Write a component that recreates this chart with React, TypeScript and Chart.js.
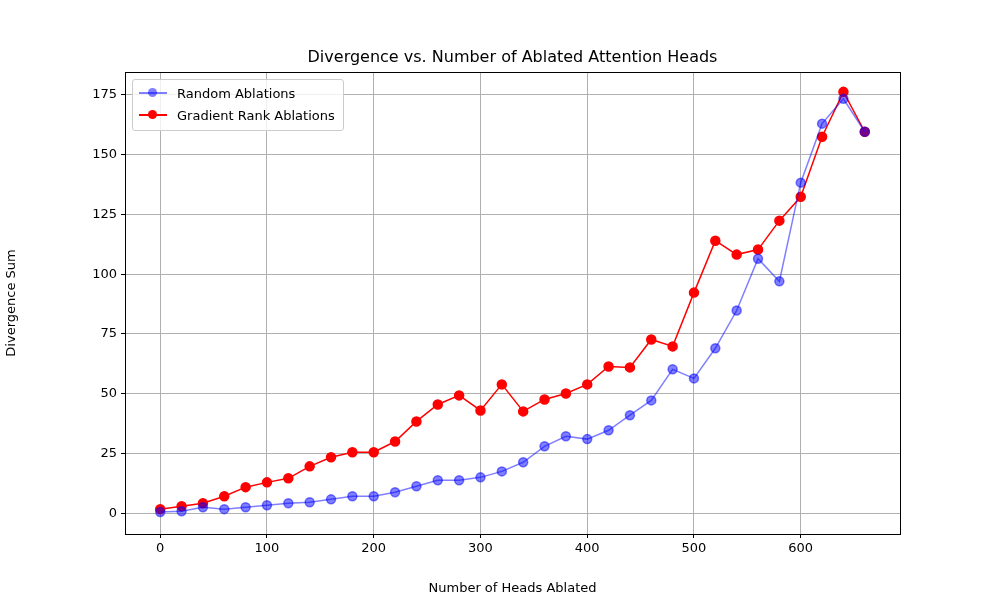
import React, { useEffect, useRef } from "react";
import { Chart, registerables } from "chart.js";
Chart.register(...registerables);

const xs = [0,20,40,60,80,100,120,140,160,180,200,220,240,260,280,300,320,340,360,380,400,420,440,460,480,500,520,540,560,580,600,620,640,660];
const randomVals = [0.5,0.8,2.5,1.7,2.5,3.3,4.2,4.6,5.8,7.1,7.1,8.8,11.3,13.8,13.8,15,17.5,21.3,28,32.2,31,34.7,41,47.2,60.2,56.4,69,84.8,106.5,97,138.3,163,173.4,159.6];
const gradientVals = [1.7,2.9,4.2,7.1,10.9,12.9,14.6,19.6,23.4,25.5,25.5,30,38.4,45.5,49.3,43,53.9,42.6,47.6,50.1,53.9,61.4,61,72.7,69.8,92.3,114,108.2,110.3,122.4,132.4,157.5,176.3,159.6];
const xTicks = [0,100,200,300,400,500,600];
const yTicks = [0,25,50,75,100,125,150,175];

const frame = {
  id: "frame",
  afterDraw(chart: any) {
    const { ctx, chartArea: a } = chart;
    ctx.save();
    ctx.strokeStyle = "#000";
    ctx.lineWidth = 1;
    ctx.strokeRect(a.left + 0.5, a.top + 0.5, a.right - a.left, a.bottom - a.top);
    ctx.restore();
  },
};

export default function App() {
  const ref = useRef<HTMLCanvasElement>(null);
  useEffect(() => {
    document.body.style.margin = "0";
    const font = { family: "DejaVu Sans", size: 13 };
    const chart = new Chart(ref.current!, {
      type: "line",
      data: {
        datasets: [
          { label: "Random Ablations", data: xs.map((x, i) => ({ x, y: randomVals[i] })), borderColor: "rgba(0,0,255,0.5)", backgroundColor: "rgba(0,0,255,0.5)", pointBorderColor: "rgba(0,0,255,0.5)", pointRadius: 4.5, borderWidth: 1.5, tension: 0 },
          { label: "Gradient Rank Ablations", data: xs.map((x, i) => ({ x, y: gradientVals[i] })), borderColor: "#ff0000", backgroundColor: "#ff0000", pointRadius: 4.5, borderWidth: 1.5, tension: 0 },
        ],
      },
      options: {
        animation: false,
        responsive: false,
        layout: { padding: { top: 72, right: 100, left: 0, bottom: 0 } },
        plugins: { legend: { display: false }, tooltip: { enabled: false } },
        scales: {
          x: {
            type: "linear", min: -33, max: 693,
            afterBuildTicks: (s: any) => { s.ticks = xTicks.map((v) => ({ value: v })); },
            afterFit: (s: any) => { s.height = 66; },
            grid: { color: "#b0b0b0", tickColor: "#000", tickLength: 4 },
            border: { color: "#000" },
            ticks: { color: "#000", font, padding: 3 },
            title: { display: true, text: "Number of Heads Ablated", color: "#000", font, padding: { top: 2 } },
          },
          y: {
            min: -8.7, max: 184.6,
            afterBuildTicks: (s: any) => { s.ticks = yTicks.map((v) => ({ value: v })); },
            afterFit: (s: any) => { s.width = 125; },
            grid: { color: "#b0b0b0", tickColor: "#000", tickLength: 4 },
            border: { color: "#000" },
            ticks: { color: "#000", font, padding: 4 },
            title: { display: true, text: "Divergence Sum", color: "#000", font, padding: { bottom: 8 } },
          },
        },
      },
      plugins: [frame],
    } as any);
    return () => chart.destroy();
  }, []);

  const dot = (c: string) => (
    <span style={{ position: "relative", display: "inline-block", width: 28, height: 10, marginRight: 10 }}>
      <span style={{ position: "absolute", left: 0, right: 0, top: 4, height: 1.5, background: c }} />
      <span style={{ position: "absolute", left: 9, top: 0, width: 9, height: 9, borderRadius: "50%", background: c }} />
    </span>
  );

  return (
    <div style={{ position: "relative", width: 1000, height: 600, fontFamily: "DejaVu Sans", background: "#fff" }}>
      <canvas ref={ref} width={1000} height={600} />
      <div style={{ position: "absolute", top: 47, left: 0, width: 1025, textAlign: "center", fontSize: 16, color: "#000" }}>
        Divergence vs. Number of Ablated Attention Heads
      </div>
      <div style={{ position: "absolute", left: 132, top: 79, border: "1px solid #ccc", borderRadius: 3, padding: "3px 8px 3px 6px", fontSize: 13, lineHeight: "22px", background: "rgba(255,255,255,0.8)" }}>
        <div>{dot("rgba(0,0,255,0.5)")}Random Ablations</div>
        <div>{dot("#ff0000")}Gradient Rank Ablations</div>
      </div>
    </div>
  );
}
